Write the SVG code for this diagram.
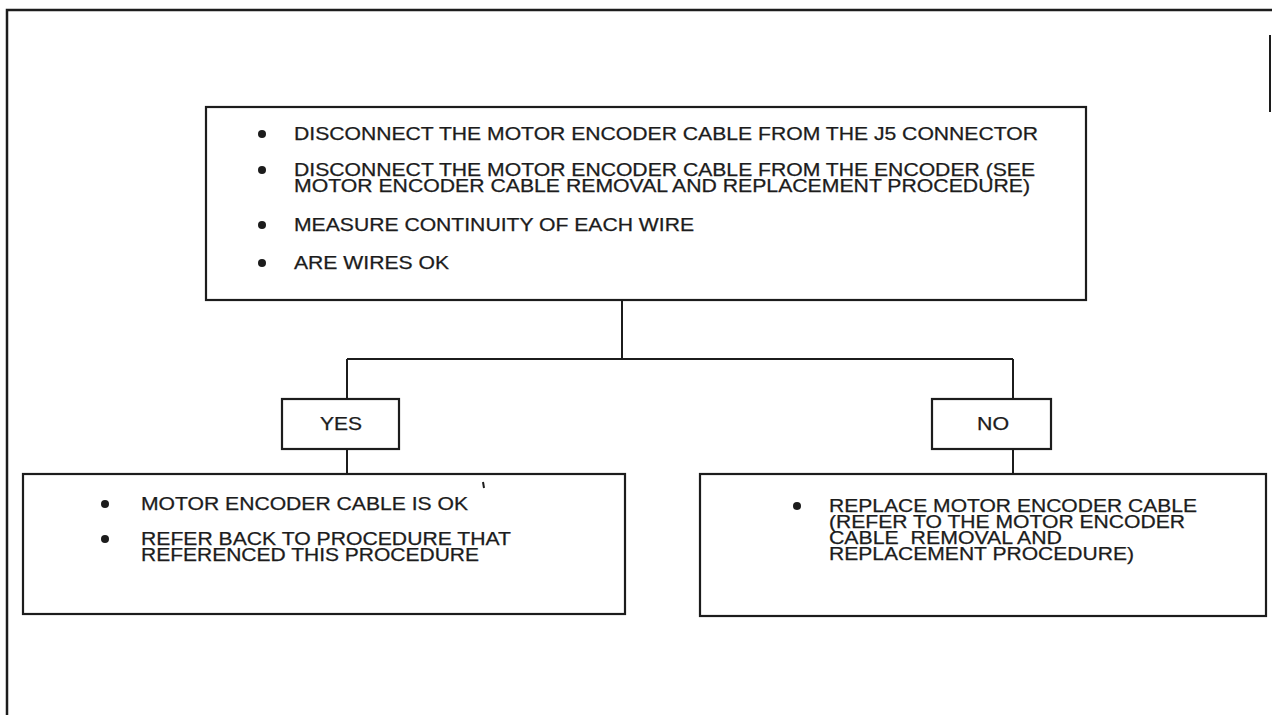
<svg xmlns="http://www.w3.org/2000/svg" width="1272" height="715" viewBox="0 0 1272 715">
<style>
.frame{fill:none;stroke:#1c1c1c;stroke-width:2.5}
.box{fill:none;stroke:#1c1c1c;stroke-width:2.2}
.conn{fill:none;stroke:#1c1c1c;stroke-width:2}
.t{font-family:"Liberation Sans",Arial,Helvetica,sans-serif;font-size:17.5px;fill:#1c1c1c;stroke:#1c1c1c;stroke-width:0.25}
.b{fill:#1c1c1c}
</style>
<rect width="1272" height="715" fill="#ffffff"/>
<g id="frame">
<path class="frame" d="M7,715 V10 H1272"/>
<path class="conn" d="M1270,35 V112"/>
</g>
<g id="connectors">
<path class="conn" d="M622,300 V359"/>
<path class="conn" d="M347,359 H1013"/>
<path class="conn" d="M347,359 V399"/>
<path class="conn" d="M347,449 V474"/>
<path class="conn" d="M1013,359 V399"/>
<path class="conn" d="M1013,449 V474"/>
</g>
<g id="check">
<rect class="box" x="206" y="107" width="880" height="193"/>
<circle class="b" cx="262" cy="134" r="4"/>
<circle class="b" cx="262" cy="170" r="4"/>
<circle class="b" cx="262" cy="225" r="4"/>
<circle class="b" cx="262" cy="263" r="4"/>
<text class="t" x="294" y="140" textLength="744" lengthAdjust="spacingAndGlyphs">DISCONNECT THE MOTOR ENCODER CABLE FROM THE J5 CONNECTOR</text>
<text class="t" x="294" y="176" textLength="741" lengthAdjust="spacingAndGlyphs">DISCONNECT THE MOTOR ENCODER CABLE FROM THE ENCODER (SEE</text>
<text class="t" x="294" y="192" textLength="736" lengthAdjust="spacingAndGlyphs">MOTOR ENCODER CABLE REMOVAL AND REPLACEMENT PROCEDURE)</text>
<text class="t" x="294" y="231" textLength="400" lengthAdjust="spacingAndGlyphs">MEASURE CONTINUITY OF EACH WIRE</text>
<text class="t" x="294" y="269" textLength="155" lengthAdjust="spacingAndGlyphs">ARE WIRES OK</text>
</g>
<g id="yes">
<rect class="box" x="282" y="399" width="117" height="50"/>
<text class="t" x="341" y="430" text-anchor="middle" textLength="42" lengthAdjust="spacingAndGlyphs">YES</text>
</g>
<g id="no">
<rect class="box" x="932" y="399" width="119" height="50"/>
<text class="t" x="993" y="430" text-anchor="middle" textLength="32" lengthAdjust="spacingAndGlyphs">NO</text>
</g>
<g id="cable-ok">
<rect class="box" x="23" y="474" width="602" height="140"/>
<circle class="b" cx="105" cy="504" r="4"/>
<circle class="b" cx="105" cy="539" r="4"/>
<text class="t" x="141" y="510" textLength="327" lengthAdjust="spacingAndGlyphs">MOTOR ENCODER CABLE IS OK</text>
<text class="t" x="141" y="545" textLength="370" lengthAdjust="spacingAndGlyphs">REFER BACK TO PROCEDURE THAT</text>
<text class="t" x="141" y="561" textLength="338" lengthAdjust="spacingAndGlyphs">REFERENCED THIS PROCEDURE</text>
<path class="conn" d="M483,482 L484,488" stroke-width="1.5"/>
</g>
<g id="replace">
<rect class="box" x="700" y="474" width="566" height="142"/>
<circle class="b" cx="797" cy="506" r="4"/>
<text class="t" x="829" y="512" textLength="368" lengthAdjust="spacingAndGlyphs">REPLACE MOTOR ENCODER CABLE</text>
<text class="t" x="829" y="528" textLength="356" lengthAdjust="spacingAndGlyphs">(REFER TO THE MOTOR ENCODER</text>
<text class="t" x="829" y="544" textLength="233" lengthAdjust="spacingAndGlyphs" xml:space="preserve">CABLE  REMOVAL AND</text>
<text class="t" x="829" y="560" textLength="305" lengthAdjust="spacingAndGlyphs">REPLACEMENT PROCEDURE)</text>
</g>
</svg>
